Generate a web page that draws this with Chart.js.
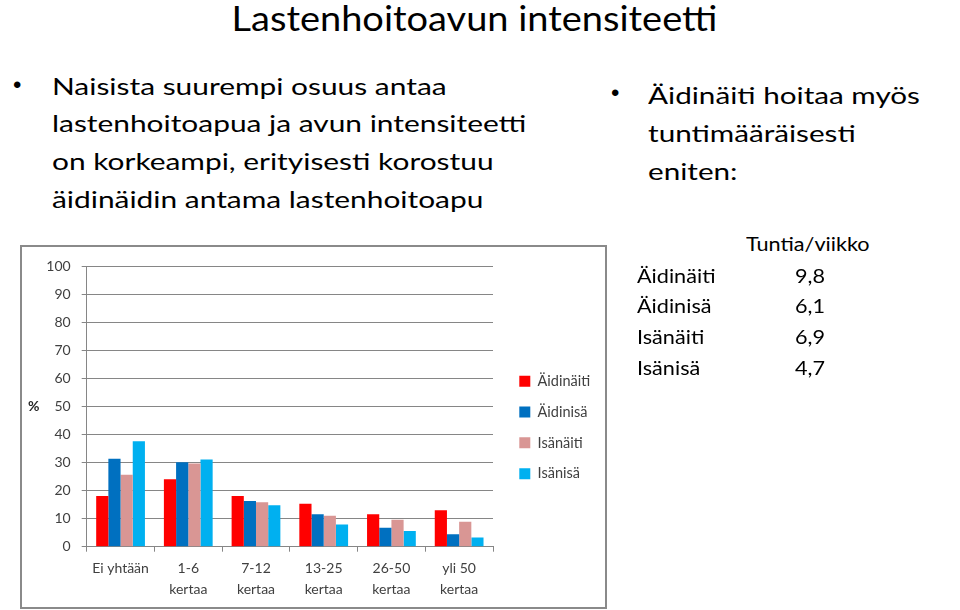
<!DOCTYPE html>
<html lang="fi">
<head>
<meta charset="utf-8">
<title>Lastenhoitoavun intensiteetti</title>
<script src="https://cdn.jsdelivr.net/npm/chart.js@4.4.0/dist/chart.umd.min.js"></script>
<style>
  html, body { margin: 0; padding: 0; background: #fff; }
  body {
    width: 960px; height: 610px; position: relative; overflow: hidden;
    font-family: Lato, "Open Sans", sans-serif; color: #000;
  }
  .title {
    position: absolute; left: 0; width: 949px; top: -4.5px;
    text-align: center; font-size: 35px; line-height: 42px;
    transform: scaleX(1.085); transform-origin: 474.5px 0;
  }
  .block { position: absolute; font-size: 24px; white-space: nowrap; transform-origin: 0 0; }
  .dot {
    position: absolute; font-family: "Liberation Sans", sans-serif;
    font-size: 24px; line-height: 24px;
  }
  #left { left: 52px; top: 66.5px; line-height: 37.7px; transform: scaleX(1.245); }
  #dotL { left: 13px; top: 72.5px; }
  #right { left: 648px; top: 75.6px; line-height: 38px; transform: scaleX(1.236); }
  #dotR { left: 611px; top: 81px; }
  .tbl {
    position: absolute; font-size: 18.5px; line-height: 30.8px; white-space: nowrap;
    transform: scaleX(1.17); transform-origin: 0 0;
  }
  #thead { left: 746px; top: 229.1px; }
  #trows { left: 637px; top: 260.7px; }
  #trows .val { position: absolute; left: 135px; }
  .box {
    position: absolute; left: 20px; top: 245px; width: 587px; height: 364px;
    box-sizing: border-box; border: 2px solid #8a8a8a; background: #fff;
  }
  .box canvas { position: absolute; left: 0; top: 0; }
  .pct {
    position: absolute; left: 6px; top: 151px; font-size: 14px; font-weight: bold;
    color: #262626; line-height: 16px;
  }
</style>
</head>
<body>
<div class="title">Lastenhoitoavun intensiteetti</div>

<span class="dot" id="dotL">•</span>
<div class="block" id="left">Naisista suurempi osuus antaa<br>lastenhoitoapua ja avun intensiteetti<br>on korkeampi, erityisesti korostuu<br>äidinäidin antama lastenhoitoapu</div>

<span class="dot" id="dotR">•</span>
<div class="block" id="right">Äidinäiti hoitaa myös<br>tuntimääräisesti<br>eniten:</div>

<div class="tbl" id="thead"></div>
<div class="tbl" id="trows"></div>

<div class="box">
  <canvas id="chart" width="583" height="360"></canvas>
  <div class="pct">%</div>
</div>

<script>
// categories (x axis)
const categories = ['Ei yhtään', ['1-6', 'kertaa'], ['7-12', 'kertaa'], ['13-25', 'kertaa'], ['26-50', 'kertaa'], ['yli 50', 'kertaa']];

// series, % of respondents
const seriesNames = ['Äidinäiti', 'Äidinisä', 'Isänäiti', 'Isänisä'];
const aidinaiti = [18.1, 24.1, 18.1, 15.3, 11.6, 13.0];
const aidinisa  = [31.4, 30.1, 16.3, 11.6, 6.8, 4.4];
const isanaiti  = [25.7, 29.7, 15.9, 11.0, 9.6, 8.9];
const isanisa   = [37.6, 31.1, 14.8, 7.9, 5.6, 3.3];
const seriesColors = ['#FF0000', '#0070C0', '#D99694', '#00B0F0'];

// y axis ticks
const yMin = 0, yMax = 100, yStep = 10;

// side table: hours per week
const tableHeader = 'Tuntia/viikko';
const tableRows = ['Äidinäiti', 'Äidinisä', 'Isänäiti', 'Isänisä'];
const tableHours = [9.8, 6.1, 6.9, 4.7];

document.getElementById('thead').textContent = tableHeader;
const trows = document.getElementById('trows');
tableRows.forEach((name, i) => {
    const row = document.createElement('div');
    row.style.position = 'relative';
    row.innerHTML = `<span>${name}</span><span class="val">${tableHours[i].toFixed(1).replace('.', ',')}</span>`;
    trows.appendChild(row);
});

// legend sits further from the plot than labels.padding allows, and a bit higher
const legendGap = {
    id: 'legendGap',
    beforeLayout(chart) {
        const lg = chart.legend;
        if (lg && !lg._patched) {
            const fit = lg.fit;
            lg.fit = function () { fit.call(this); this.width = 112; };
            lg._patched = true;
        }
    },
    afterLayout(chart) {
        const lg = chart.legend;
        if (lg) {
            lg.left += 10; lg.right += 10;
            lg.top -= 8.9; lg.bottom -= 8.9;
        }
    }
};

Chart.defaults.font.family = "Lato, 'Open Sans', sans-serif";
Chart.defaults.color = '#404040';

const seriesData = [aidinaiti, aidinisa, isanaiti, isanisa];

new Chart(document.getElementById('chart').getContext('2d'), {
    type: 'bar',
    data: {
        labels: categories,
        datasets: seriesNames.map((name, i) => ({
            label: name,
            data: seriesData[i],
            backgroundColor: seriesColors[i],
            borderWidth: 0,
            categoryPercentage: 0.72,
            barPercentage: 1
        }))
    },
    options: {
        responsive: false,
        animation: false,
        layout: { padding: { left: 20, top: 18.7, bottom: 0, right: 0 } },
        scales: {
            x: {
                grid: { drawOnChartArea: false, drawTicks: true, tickLength: 5, color: '#868686', offset: true },
                border: { color: '#868686' },
                ticks: { color: '#404040', font: { size: 14, lineHeight: 1.5 }, padding: 6, maxRotation: 0, autoSkip: false },
                afterFit(scale) { scale.height = 60.3; }
            },
            y: {
                min: yMin,
                max: yMax,
                ticks: { stepSize: yStep, color: '#404040', font: { size: 14 }, padding: 11 },
                grid: { color: '#868686', tickLength: 5 },
                border: { color: '#868686' },
                afterFit(scale) { scale.width = 44.7; }
            }
        },
        plugins: {
            legend: {
                position: 'right',
                labels: { boxWidth: 11, boxHeight: 11, padding: 16.3, color: '#404040', font: { size: 14.5 } }
            },
            tooltip: { enabled: false }
        }
    },
    plugins: [legendGap]
});
</script>
</body>
</html>
